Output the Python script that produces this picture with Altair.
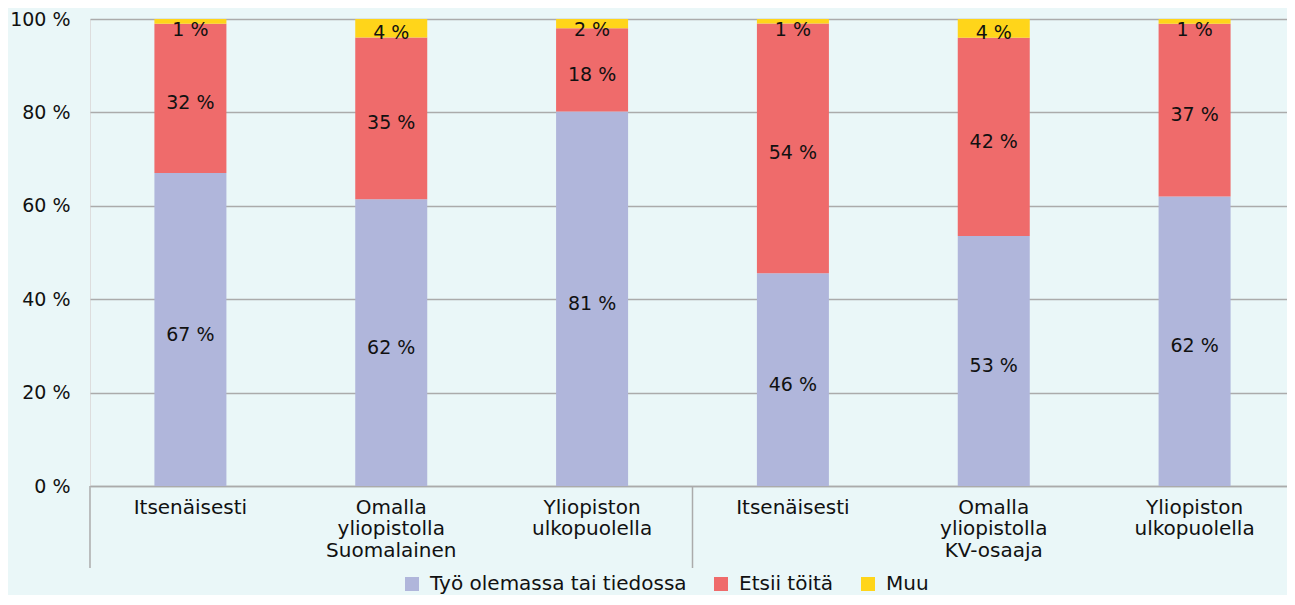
import json
import altair as alt
import pandas as pd

# ---- data ----
tick_labels = [
    ["Itsenäisesti"],
    ["Omalla", "yliopistolla", "Suomalainen"],
    ["Yliopiston", "ulkopuolella"],
    ["Itsenäisesti"],
    ["Omalla", "yliopistolla", "KV-osaaja"],
    ["Yliopiston", "ulkopuolella"],
]
group_starts = [0, 3]
series = ["Työ olemassa tai tiedossa", "Etsii töitä", "Muu"]
tyo = [67, 62, 81, 46, 53, 62]
etsii = [32, 35, 18, 54, 42, 37]
muu = [1, 4, 2, 1, 4, 1]
colors = ["#B0B6DB", "#EF6B6B", "#FFD51A"]

rows = []
for i in range(len(tick_labels)):
    for k, (name, vals) in enumerate(zip(series, [tyo, etsii, muu])):
        rows.append({"pos": i, "series": name, "value": vals[i], "order": k})
df = pd.DataFrame(rows)
sep_df = pd.DataFrame({"pos": group_starts})

PLOT_W = 1205
PLOT_H = 467
STEP = PLOT_W / len(tick_labels)
FONT = "DejaVu Sans"
GRID = "#ABABAB"
TXT = "#111111"

label_expr = json.dumps(tick_labels, ensure_ascii=False) + "[datum.value]"

x_enc = alt.X(
    "pos:O",
    scale=alt.Scale(paddingInner=0.6415, paddingOuter=0.3207),
    axis=alt.Axis(
        title=None,
        labelAngle=0,
        labelExpr=label_expr,
        labelFontSize=20,
        labelLineHeight=21.5,
        labelBaseline="top",
        labelPadding=11,
        labelColor=TXT,
        ticks=False,
        domain=True,
        domainColor=GRID,
        domainWidth=1.5,
        grid=False,
    ),
)

y_scale = alt.Scale(domain=[0, 1])

bars = alt.Chart(df).mark_bar().encode(
    x=x_enc,
    y=alt.Y(
        "value:Q",
        stack="normalize",
        scale=y_scale,
        axis=alt.Axis(
            title=None,
            values=[0, 0.2, 0.4, 0.6, 0.8, 1.0],
            labelExpr="format(datum.value * 100, 'd') + ' %'",
            labelFontSize=19,
            labelPadding=20,
            labelColor=TXT,
            ticks=False,
            domain=False,
            grid=True,
            gridColor=GRID,
            gridWidth=1.5,
        ),
    ),
    color=alt.Color(
        "series:N",
        scale=alt.Scale(domain=series, range=colors),
        legend=alt.Legend(
            title=None,
            orient="none",
            direction="horizontal",
            legendX=312,
            legendY=555,
            symbolType="square",
            symbolSize=196,
            symbolStrokeWidth=0,
            labelFontSize=20,
            labelOffset=8,
            labelLimit=500,
            columnPadding=24,
            labelColor=TXT,
        ),
    ),
    order=alt.Order("order:Q"),
)

labels = (
    alt.Chart(df)
    .transform_joinaggregate(total="sum(value)", groupby=["pos"])
    .transform_calculate(pct="datum.value / datum.total")
    .transform_stack(stack="pct", groupby=["pos"], sort=[alt.SortField("order")], as_=["y0", "y1"])
    .transform_calculate(
        mid="min((datum.y0 + datum.y1) / 2, 0.988)",
        label="datum.value + ' %'",
    )
    .mark_text(fontSize=19, color=TXT, baseline="middle", dy=5)
    .encode(
        x="pos:O",
        y=alt.Y("mid:Q", scale=y_scale),
        text="label:N",
    )
)

seps = alt.Chart(sep_df).mark_rule(color=GRID, strokeWidth=1.5, xOffset=-STEP / 2).encode(
    x=alt.X("pos:O"),
    y=alt.value(PLOT_H),
    y2=alt.value(PLOT_H + 82),
)

chart = (
    alt.layer(bars, labels, seps)
    .properties(
        width=PLOT_W,
        height=PLOT_H,
        autosize=alt.AutoSizeParams(type="none"),
        padding={"left": 82, "top": 11, "right": -8, "bottom": 109},
        background="#EAF7F8",
    )
    .configure_view(stroke=None)
    .configure(font=FONT)
)

chart.save("out.html", embed_options={"renderer": "svg", "actions": False})
